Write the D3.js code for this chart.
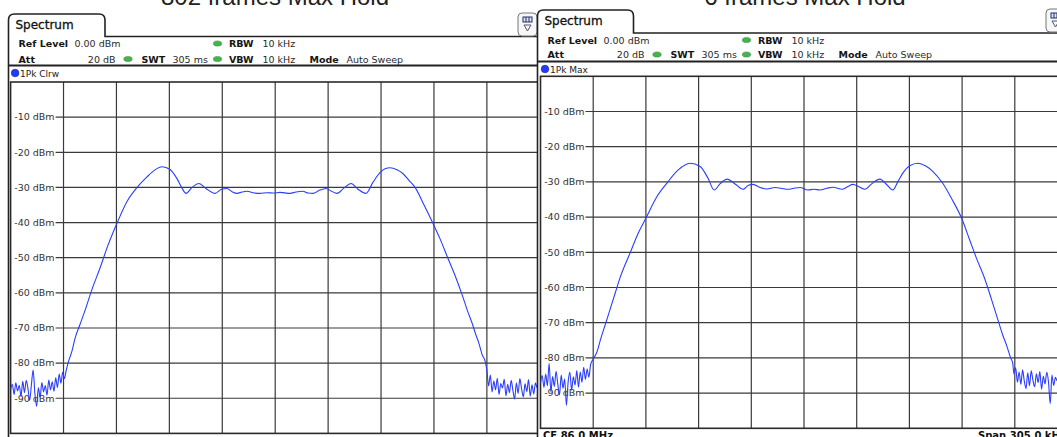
<!DOCTYPE html>
<html lang="en">
<head>
<meta charset="UTF-8">
<title>Spectrum</title>
<style>
  body { margin: 0; background: #fff; }
  svg { display: block; font-family: "DejaVu Sans", Verdana, sans-serif; }
</style>
</head>
<body>
<svg></svg>
<script src="https://cdn.jsdelivr.net/npm/d3@7/dist/d3.min.js"></script>
<script>
// captions above each screenshot (cut off at the top)
var titles = ["802 frames Max Hold", "6 frames Max Hold"];
var traceNames = ["1Pk Clrw", "1Pk Max"];
var levelTicks = [-10, -20, -30, -40, -50, -60, -70, -80, -90];
var freqDivs = [-122, -91.5, -61, -30.5, 0, 30.5, 61, 91.5, 122]; // kHz from CF
var freqSpan = [-152.5, 152.5];
var levelRange = [0, -100];

// [offset kHz, level dBm] (Clear/Write)
var clrwTrace = [
  [-152.5, -87.5], [-151.5, -86.0], [-150.5, -88.9], [-149.5, -85.6], [-148.5, -87.9],
  [-147.5, -86.3], [-146.5, -89.5], [-145.5, -85.2], [-144.5, -88.4], [-143.5, -84.9],
  [-142.5, -87.2], [-141.5, -90.6], [-140.5, -86.1], [-139.5, -82.0], [-138.5, -88.7],
  [-137.5, -92.3], [-136.5, -87.0], [-135.5, -89.8], [-134.5, -85.5], [-133.5, -88.2],
  [-132.5, -86.4], [-131.5, -89.1], [-130.5, -84.8], [-129.5, -87.6], [-128.5, -85.3],
  [-127.5, -88.0], [-126.5, -84.2], [-125.5, -86.9], [-124.5, -83.1], [-123.5, -85.7],
  [-122.5, -82.6], [-121.5, -84.4], [-120.5, -82.2],
  [-119.4, -80.0], [-117.1, -76.5], [-115.4, -73.0], [-112.5, -69.0], [-109.6, -65.0],
  [-105.6, -59.0], [-101.0, -53.0], [-96.4, -46.5], [-91.2, -40.2], [-85.4, -34.0],
  [-79.6, -30.0], [-73.9, -27.0], [-69.3, -25.0], [-65.2, -24.1], [-60.6, -24.9],
  [-56.6, -27.5], [-53.7, -30.2], [-51.4, -31.7], [-47.9, -30.0], [-43.9, -28.9],
  [-39.9, -30.3], [-34.7, -31.7], [-31.2, -30.6], [-27.8, -30.3], [-24.9, -31.2],
  [-22.0, -31.7], [-19.1, -31.3], [-16.3, -31.1], [-12.8, -31.5], [-8.8, -31.7],
  [-4.7, -31.5], [-0.7, -31.6], [2.8, -31.4], [8.5, -31.7], [12.0, -31.3],
  [16.0, -31.1], [18.9, -31.6], [21.8, -31.7], [25.2, -30.9], [29.3, -30.3],
  [32.2, -31.0], [35.6, -31.7], [39.6, -30.2], [43.7, -28.9], [47.7, -30.5],
  [52.3, -31.7], [56.4, -28.5], [60.4, -25.8], [63.3, -24.7], [66.2, -24.4],
  [70.2, -25.0], [73.7, -26.1], [77.1, -28.0], [80.6, -30.0], [85.8, -35.0],
  [90.9, -40.2], [94.9, -44.5], [99.0, -49.5], [103.6, -55.0], [107.7, -60.5],
  [111.1, -65.5], [113.4, -68.5], [115.7, -72.0], [117.5, -74.5], [119.2, -77.5],
  [121.0, -79.5],
  [122, -82.0], [123, -86.5], [124, -83.4], [125, -88.2], [126, -85.1],
  [127, -87.6], [128, -84.3], [129, -88.9], [130, -85.8], [131, -87.1],
  [132, -84.6], [133, -89.3], [134, -86.0], [135, -88.4], [136, -84.9],
  [137, -87.8], [138, -90.2], [139, -85.7], [140, -88.6], [141, -84.4],
  [142, -87.3], [143, -89.6], [144, -85.9], [145, -88.1], [146, -84.7],
  [147, -89.4], [148, -86.2], [149, -88.8], [150, -85.6], [151, -87.0],
  [152, -86.1], [152.5, -87.4]
];

// [offset kHz, level dBm] (Max Hold)
var maxTrace = [
  [-152.5, -87.2], [-151.5, -85.0], [-150.5, -88.4], [-149.5, -84.6], [-148.5, -87.9],
  [-147.5, -81.5], [-146.5, -89.7], [-145.5, -85.3], [-144.5, -88.1], [-143.5, -83.8],
  [-142.5, -87.4], [-141.5, -90.5], [-140.5, -84.9], [-139.5, -88.6], [-138.5, -86.0],
  [-137.5, -93.5], [-136.5, -86.8], [-135.5, -84.1], [-134.5, -89.2], [-133.5, -85.4],
  [-132.5, -87.7], [-131.5, -83.6], [-130.5, -88.3], [-129.5, -84.0], [-128.5, -86.9],
  [-127.5, -82.7], [-126.5, -86.1], [-125.5, -83.2], [-124.5, -85.5], [-123.5, -81.9],
  [-121.9, -80.3], [-119.6, -78.0], [-117.9, -75.0], [-115.0, -70.5], [-112.1, -66.0],
  [-109.2, -61.5], [-106.3, -57.0], [-100.5, -50.0], [-95.9, -44.5], [-91.3, -40.1],
  [-85.5, -34.5], [-79.1, -30.2], [-72.8, -26.6], [-65.9, -24.7], [-60.1, -25.6],
  [-55.5, -29.0], [-52.0, -32.3], [-48.5, -30.5], [-44.5, -29.2], [-39.9, -30.6],
  [-35.2, -32.1], [-32.4, -31.0], [-29.5, -30.7], [-25.4, -31.6], [-21.4, -32.0],
  [-16.8, -31.6], [-13.3, -31.8], [-9.2, -32.1], [-5.8, -31.8], [-2.3, -31.6],
  [2.3, -32.3], [5.8, -32.1], [9.2, -32.3], [13.3, -31.8], [16.8, -31.5],
  [22.0, -32.1], [25.4, -31.3], [28.3, -30.7], [31.8, -31.4], [35.2, -32.1],
  [39.3, -30.5], [43.9, -29.2], [47.9, -30.8], [51.4, -32.3], [54.3, -30.0],
  [57.2, -27.5], [61.2, -25.4], [65.9, -24.7], [70.5, -25.5], [74.5, -27.0],
  [80.3, -30.4], [85.5, -34.8], [91.3, -40.4], [95.9, -46.5], [99.9, -51.8],
  [104.6, -57.5], [108.6, -63.5], [112.1, -69.0], [115.0, -73.5], [117.3, -76.5],
  [119.6, -80.0], [120.8, -81.5],
  [121.5, -84.5], [122.5, -82.8], [123.5, -86.9], [124.5, -84.0], [125.5, -87.5],
  [126.5, -83.4], [127.5, -86.6], [128.5, -88.7], [129.5, -84.2], [130.5, -87.9],
  [131.5, -83.7], [132.5, -86.4], [133.5, -88.2], [134.5, -84.5], [135.5, -87.0],
  [136.5, -83.9], [137.5, -88.9], [138.5, -85.2], [139.5, -87.4], [140.5, -84.1],
  [141.5, -86.8], [142.5, -93.0], [143.5, -84.9], [144.5, -87.8], [145.5, -85.5],
  [146.5, -86.5], [147.5, -86.3], [148.5, -84.6], [149.5, -88.0], [150.5, -85.7],
  [151.5, -87.1], [152.5, -86.0]
];

var W = 1057, H = 437;
var svg = d3.select("svg").attr("width", W).attr("height", H);

var panels = [
  { x0: 8.5, tabTop: 14, tabR: 105, headY: 36.5, row1: 47, row2: 62.5, sepY: 65.5, labY: 76.5,
    plotL: 10.6, plotR: 539.8, plotT: 82, plotB: 433.4, right: 537, iconX: 518, iconY: 13 },
  { x0: 537.5, tabTop: 10, tabR: 633.5, headY: 33, row1: 43.5, row2: 58, sepY: 61.5, labY: 72.5,
    plotL: 540.5, plotR: 1067.5, plotT: 76.3, plotB: 428.3, right: 1070, iconX: 1046, iconY: 9 }
];
var traces = [clrwTrace, maxTrace];

function txt(g, x, y, s, bold, anchor) {
  return g.append("text").attr("x", x).attr("y", y).text(s)
    .attr("font-size", "9.5px")
    .attr("font-weight", bold ? "bold" : "normal")
    .attr("fill", bold ? "#151515" : "#2a2a2a")
    .attr("text-anchor", anchor || "start");
}

function dot(g, cx, cy) {
  g.append("ellipse").attr("cx", cx).attr("cy", cy).attr("rx", 4.2).attr("ry", 2.6)
    .attr("fill", "#45b24e").attr("stroke", "#2f8a37").attr("stroke-width", 0.5);
}

panels.forEach(function (p, i) {
  var g = svg.append("g");
  var x = d3.scaleLinear().domain(freqSpan).range([p.plotL, p.plotR]);
  var y = d3.scaleLinear().domain(levelRange).range([p.plotT, p.plotB]);

  // white sheet so the right panel covers the left one's edge
  g.append("rect").attr("x", p.x0).attr("y", p.tabTop - 1)
    .attr("width", p.right - p.x0 + 10).attr("height", H).attr("fill", "#fff");

  // tab + header line
  var r = 6;
  g.append("path")
    .attr("d", "M" + p.x0 + "," + H + " L" + p.x0 + "," + (p.tabTop + r) +
      " Q" + p.x0 + "," + p.tabTop + " " + (p.x0 + r) + "," + p.tabTop +
      " L" + (p.tabR - r) + "," + p.tabTop +
      " Q" + p.tabR + "," + p.tabTop + " " + p.tabR + "," + (p.tabTop + r) +
      " L" + p.tabR + "," + p.headY + " L" + p.right + "," + p.headY)
    .attr("fill", "none").attr("stroke", "#222").attr("stroke-width", 1.6);
  g.append("text").attr("x", p.x0 + 7).attr("y", p.tabTop + 15).text("Spectrum")
    .attr("font-size", "12px").attr("fill", "#111").attr("stroke", "#111").attr("stroke-width", 0.3);

  // icon top right
  var ic = g.append("g").attr("transform", "translate(" + p.iconX + "," + p.iconY + ")");
  ic.append("rect").attr("width", 19).attr("height", 23).attr("rx", 4)
    .attr("fill", "#f7f7f7").attr("stroke", "#777");
  ic.append("rect").attr("x", 5).attr("y", 4).attr("width", 9).attr("height", 5)
    .attr("fill", "#dfe4f5").attr("stroke", "#223066").attr("stroke-width", 1);
  ic.append("path").attr("d", "M8,4V9M11,4V9").attr("stroke", "#223066");
  ic.append("path").attr("d", "M6,12H13L9.5,18Z").attr("fill", "none").attr("stroke", "#556");

  // settings rows
  var o = p.x0;
  txt(g, o + 10, p.row1, "Ref Level", true);
  txt(g, o + 66, p.row1, "0.00 dBm");
  dot(g, o + 209, p.row1 - 3.5);
  txt(g, o + 245, p.row1, "RBW", true, "end");
  txt(g, o + 254, p.row1, "10 kHz");
  txt(g, o + 10, p.row2, "Att", true);
  txt(g, o + 107, p.row2, "20 dB", false, "end");
  dot(g, o + 119.5, p.row2 - 3.5);
  txt(g, o + 133, p.row2, "SWT", true);
  txt(g, o + 164, p.row2, "305 ms");
  dot(g, o + 209, p.row2 - 3.5);
  txt(g, o + 245, p.row2, "VBW", true, "end");
  txt(g, o + 254, p.row2, "10 kHz");
  txt(g, o + 301, p.row2, "Mode", true);
  txt(g, o + 338, p.row2, "Auto Sweep");

  g.append("line").attr("x1", p.x0).attr("x2", p.right).attr("y1", p.sepY).attr("y2", p.sepY)
    .attr("stroke", "#222").attr("stroke-width", 1.8);

  // trace label row
  g.append("circle").attr("cx", p.plotL + 4.5).attr("cy", p.labY - 3.5).attr("r", 3.8)
    .attr("fill", "#1f3cff").attr("stroke", "#0d1d8a").attr("stroke-width", 0.6);
  g.append("text").attr("x", p.plotL + 9.5).attr("y", p.labY).text(traceNames[i])
    .attr("font-size", "9px").attr("fill", "#222");

  // grid
  var grid = g.append("g").attr("stroke", "#3a3a3a").attr("stroke-width", 1.2);
  grid.selectAll("line.v").data(freqDivs).join("line").attr("class", "v")
    .attr("x1", function (d) { return x(d); }).attr("x2", function (d) { return x(d); })
    .attr("y1", p.plotT).attr("y2", p.plotB);
  grid.selectAll("line.h").data(levelTicks).join("line").attr("class", "h")
    .attr("x1", p.plotL + 45).attr("x2", p.plotR)
    .attr("y1", function (d) { return y(d); }).attr("y2", function (d) { return y(d); });
  g.append("rect").attr("x", p.plotL).attr("y", p.plotT)
    .attr("width", p.plotR - p.plotL).attr("height", p.plotB - p.plotT)
    .attr("fill", "none").attr("stroke", "#2a2a2a").attr("stroke-width", 1.6);

  g.selectAll("text.lvl").data(levelTicks).join("text").attr("class", "lvl")
    .attr("x", p.plotL + 44).attr("y", function (d) { return y(d); }).attr("dy", "0.35em")
    .attr("text-anchor", "end").attr("font-size", "9.5px").attr("fill", "#333")
    .text(function (d) { return d + " dBm"; });

  // trace
  var clipId = "clip" + i;
  g.append("clipPath").attr("id", clipId).append("rect")
    .attr("x", p.plotL).attr("y", p.plotT).attr("width", p.plotR - p.plotL).attr("height", p.plotB - p.plotT);
  var line = d3.line().x(function (d) { return x(d[0]); }).y(function (d) { return y(d[1]); })
    .curve(d3.curveMonotoneX);
  g.append("path").datum(traces[i]).attr("clip-path", "url(#" + clipId + ")")
    .attr("d", line).attr("fill", "none").attr("stroke", "#2b3dff").attr("stroke-width", 1.1);
});

// footer of the right screenshot (mostly cut off)
svg.append("text").attr("x", 543).attr("y", 439).text("CF 86.0 MHz")
  .attr("font-size", "10px").attr("font-weight", "bold").attr("fill", "#111");
svg.append("text").attr("x", 978).attr("y", 439).text("Span 305.0 kHz")
  .attr("font-size", "10px").attr("font-weight", "bold").attr("fill", "#111");

// captions
svg.selectAll("text.cap").data(titles).join("text").attr("class", "cap")
  .attr("x", function (d, i) { return i === 0 ? 275 : 805; }).attr("y", 5)
  .attr("text-anchor", "middle").attr("font-family", "Liberation Sans, Arial, sans-serif")
  .attr("font-size", "24px").attr("fill", "#222")
  .text(function (d) { return d; });
</script>
</body>
</html>
